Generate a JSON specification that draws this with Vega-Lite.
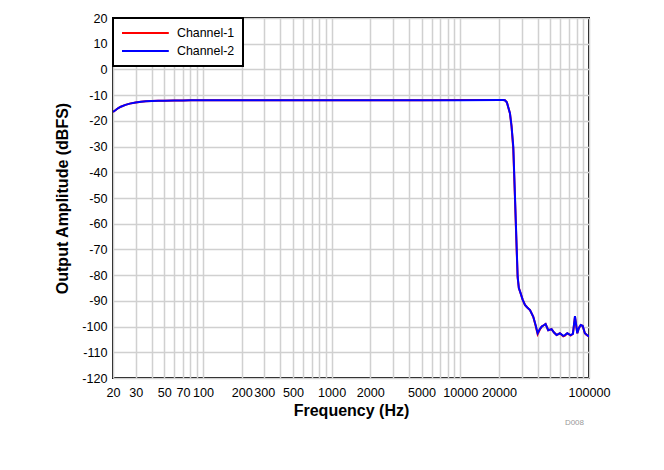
{
  "$schema": "https://vega.github.io/schema/vega-lite/v6.json",
  "width": 476,
  "height": 360,
  "autosize": "none",
  "padding": {"left": 113, "top": 18, "right": 75, "bottom": 92},
  "background": "white",
  "title": {"text": "D008", "orient": "bottom", "anchor": "end", "fontSize": 8, "color": "#999999", "font": "Liberation Sans", "fontWeight": "normal", "offset": 0, "dx": -26},
  "config": {
    "font": "Liberation Sans",
    "view": {"stroke": "black", "strokeWidth": 2},
    "axis": {"gridColor": "#d0d0d0", "gridWidth": 1.5, "domain": false, "ticks": false, "labelFont": "Liberation Sans", "labelFontSize": 12.6, "labelColor": "black", "titleFont": "Liberation Sans", "titleFontSize": 16, "titleFontWeight": "bold", "titleColor": "black"}
  },
  "datasets": {
    "curve": [
      {"f": 20, "a": -16.5, "ch": "Channel-1"}, {"f": 21, "a": -15.8, "ch": "Channel-1"}, {"f": 22, "a": -15.0, "ch": "Channel-1"}, {"f": 23, "a": -14.5, "ch": "Channel-1"}, {"f": 25, "a": -13.8, "ch": "Channel-1"}, {"f": 27, "a": -13.3, "ch": "Channel-1"}, {"f": 30, "a": -12.9, "ch": "Channel-1"}, {"f": 33, "a": -12.6, "ch": "Channel-1"}, {"f": 36, "a": -12.4, "ch": "Channel-1"}, {"f": 40, "a": -12.3, "ch": "Channel-1"}, {"f": 45, "a": -12.2, "ch": "Channel-1"}, {"f": 50, "a": -12.15, "ch": "Channel-1"}, {"f": 60, "a": -12.1, "ch": "Channel-1"}, {"f": 70, "a": -12.05, "ch": "Channel-1"}, {"f": 80, "a": -12.0, "ch": "Channel-1"}, {"f": 100, "a": -12.0, "ch": "Channel-1"}, {"f": 200, "a": -12.0, "ch": "Channel-1"}, {"f": 500, "a": -12.0, "ch": "Channel-1"}, {"f": 1000, "a": -11.95, "ch": "Channel-1"}, {"f": 2000, "a": -11.95, "ch": "Channel-1"}, {"f": 5000, "a": -11.95, "ch": "Channel-1"}, {"f": 10000, "a": -11.9, "ch": "Channel-1"}, {"f": 20000, "a": -11.9, "ch": "Channel-1"}, {"f": 21500, "a": -11.9, "ch": "Channel-1"}, {"f": 22200, "a": -12.0, "ch": "Channel-1"}, {"f": 23000, "a": -12.8, "ch": "Channel-1"}, {"f": 24300, "a": -17, "ch": "Channel-1"}, {"f": 25000, "a": -22, "ch": "Channel-1"}, {"f": 25800, "a": -31, "ch": "Channel-1"}, {"f": 26600, "a": -50.5, "ch": "Channel-1"}, {"f": 27400, "a": -70, "ch": "Channel-1"}, {"f": 27900, "a": -81, "ch": "Channel-1"}, {"f": 28500, "a": -85, "ch": "Channel-1"}, {"f": 29400, "a": -87, "ch": "Channel-1"}, {"f": 30500, "a": -89.5, "ch": "Channel-1"}, {"f": 31800, "a": -91.6, "ch": "Channel-1"}, {"f": 33000, "a": -92.5, "ch": "Channel-1"}, {"f": 34800, "a": -93.6, "ch": "Channel-1"}, {"f": 36900, "a": -96.2, "ch": "Channel-1"}, {"f": 38500, "a": -99.7, "ch": "Channel-1"}, {"f": 39900, "a": -103.0, "ch": "Channel-1"}, {"f": 41500, "a": -101.2, "ch": "Channel-1"}, {"f": 42900, "a": -100, "ch": "Channel-1"}, {"f": 44500, "a": -99.5, "ch": "Channel-1"}, {"f": 46000, "a": -99, "ch": "Channel-1"}, {"f": 48200, "a": -101.4, "ch": "Channel-1"}, {"f": 51200, "a": -101, "ch": "Channel-1"}, {"f": 53500, "a": -102.3, "ch": "Channel-1"}, {"f": 56000, "a": -103.3, "ch": "Channel-1"}, {"f": 59400, "a": -102.6, "ch": "Channel-1"}, {"f": 63100, "a": -103.8, "ch": "Channel-1"}, {"f": 65000, "a": -103.5, "ch": "Channel-1"}, {"f": 67800, "a": -102.6, "ch": "Channel-1"}, {"f": 72000, "a": -103.5, "ch": "Channel-1"}, {"f": 75000, "a": -102.8, "ch": "Channel-1"}, {"f": 77800, "a": -96.2, "ch": "Channel-1"}, {"f": 81100, "a": -102.6, "ch": "Channel-1"}, {"f": 83500, "a": -100.5, "ch": "Channel-1"}, {"f": 86200, "a": -99.4, "ch": "Channel-1"}, {"f": 89300, "a": -99.8, "ch": "Channel-1"}, {"f": 92900, "a": -102.6, "ch": "Channel-1"}, {"f": 96000, "a": -103.3, "ch": "Channel-1"}, {"f": 98600, "a": -103.6, "ch": "Channel-1"}, {"f": 100000, "a": -104, "ch": "Channel-1"},
      {"f": 20, "a": -16.5, "ch": "Channel-2"}, {"f": 21, "a": -15.8, "ch": "Channel-2"}, {"f": 22, "a": -15.0, "ch": "Channel-2"}, {"f": 23, "a": -14.5, "ch": "Channel-2"}, {"f": 25, "a": -13.8, "ch": "Channel-2"}, {"f": 27, "a": -13.3, "ch": "Channel-2"}, {"f": 30, "a": -12.9, "ch": "Channel-2"}, {"f": 33, "a": -12.6, "ch": "Channel-2"}, {"f": 36, "a": -12.4, "ch": "Channel-2"}, {"f": 40, "a": -12.3, "ch": "Channel-2"}, {"f": 45, "a": -12.2, "ch": "Channel-2"}, {"f": 50, "a": -12.15, "ch": "Channel-2"}, {"f": 60, "a": -12.1, "ch": "Channel-2"}, {"f": 70, "a": -12.05, "ch": "Channel-2"}, {"f": 80, "a": -12.0, "ch": "Channel-2"}, {"f": 100, "a": -12.0, "ch": "Channel-2"}, {"f": 200, "a": -12.0, "ch": "Channel-2"}, {"f": 500, "a": -12.0, "ch": "Channel-2"}, {"f": 1000, "a": -12.0, "ch": "Channel-2"}, {"f": 2000, "a": -12.0, "ch": "Channel-2"}, {"f": 5000, "a": -12.0, "ch": "Channel-2"}, {"f": 10000, "a": -12.0, "ch": "Channel-2"}, {"f": 20000, "a": -11.9, "ch": "Channel-2"}, {"f": 21500, "a": -11.9, "ch": "Channel-2"}, {"f": 22200, "a": -12.0, "ch": "Channel-2"}, {"f": 23000, "a": -12.8, "ch": "Channel-2"}, {"f": 24300, "a": -17, "ch": "Channel-2"}, {"f": 25000, "a": -22, "ch": "Channel-2"}, {"f": 25800, "a": -30, "ch": "Channel-2"}, {"f": 26600, "a": -49.5, "ch": "Channel-2"}, {"f": 27400, "a": -69, "ch": "Channel-2"}, {"f": 27900, "a": -80.6, "ch": "Channel-2"}, {"f": 28500, "a": -85, "ch": "Channel-2"}, {"f": 29400, "a": -87, "ch": "Channel-2"}, {"f": 30500, "a": -89.5, "ch": "Channel-2"}, {"f": 31800, "a": -91.6, "ch": "Channel-2"}, {"f": 33000, "a": -92.5, "ch": "Channel-2"}, {"f": 34800, "a": -93.6, "ch": "Channel-2"}, {"f": 36900, "a": -96.2, "ch": "Channel-2"}, {"f": 38500, "a": -99.5, "ch": "Channel-2"}, {"f": 39900, "a": -102.6, "ch": "Channel-2"}, {"f": 41500, "a": -101, "ch": "Channel-2"}, {"f": 42900, "a": -100, "ch": "Channel-2"}, {"f": 44500, "a": -99.5, "ch": "Channel-2"}, {"f": 46000, "a": -99, "ch": "Channel-2"}, {"f": 48200, "a": -101.4, "ch": "Channel-2"}, {"f": 51200, "a": -101, "ch": "Channel-2"}, {"f": 53500, "a": -102.3, "ch": "Channel-2"}, {"f": 56000, "a": -103.3, "ch": "Channel-2"}, {"f": 59400, "a": -102.6, "ch": "Channel-2"}, {"f": 63100, "a": -103.6, "ch": "Channel-2"}, {"f": 65000, "a": -103.3, "ch": "Channel-2"}, {"f": 67800, "a": -102.6, "ch": "Channel-2"}, {"f": 72000, "a": -103.3, "ch": "Channel-2"}, {"f": 75000, "a": -102.8, "ch": "Channel-2"}, {"f": 77800, "a": -95.9, "ch": "Channel-2"}, {"f": 81100, "a": -102.6, "ch": "Channel-2"}, {"f": 83500, "a": -100.5, "ch": "Channel-2"}, {"f": 86200, "a": -99.4, "ch": "Channel-2"}, {"f": 89300, "a": -99.7, "ch": "Channel-2"}, {"f": 92900, "a": -102.6, "ch": "Channel-2"}, {"f": 96000, "a": -103.2, "ch": "Channel-2"}, {"f": 98600, "a": -103.6, "ch": "Channel-2"}, {"f": 100000, "a": -104, "ch": "Channel-2"}
    ]
  },
  "data": {"name": "curve"},
  "mark": {"type": "line", "strokeWidth": 2, "clip": true},
  "encoding": {
    "x": {
      "field": "f", "type": "quantitative",
      "scale": {"type": "log", "domain": [20, 100000], "nice": false},
      "axis": {
        "title": "Frequency (Hz)",
        "values": [20,30,40,50,60,70,80,90,100,200,300,400,500,600,700,800,900,1000,2000,3000,4000,5000,6000,7000,8000,9000,10000,20000,30000,40000,50000,60000,70000,80000,90000,100000],
        "labelExpr": "indexof([20,30,50,70,100,200,300,500,1000,2000,5000,10000,20000,100000], datum.value) >= 0 ? datum.value + '' : ''",
        "labelOverlap": false,
        "labelBound": false,
        "labelFlush": false,
        "labelPadding": 8,
        "titlePadding": 4
      }
    },
    "y": {
      "field": "a", "type": "quantitative",
      "scale": {"domain": [-120, 20], "nice": false, "zero": false},
      "axis": {
        "title": "Output Amplitude (dBFS)",
        "values": [-120,-110,-100,-90,-80,-70,-60,-50,-40,-30,-20,-10,0,10,20],
        "labelExpr": "datum.value + ''",
        "labelPadding": 6,
        "titlePadding": 11,
        "labelFlush": false,
        "labelOverlap": false
      }
    },
    "color": {
      "field": "ch", "type": "nominal",
      "scale": {"domain": ["Channel-1", "Channel-2"], "range": ["#ff0000", "#0000ff"]},
      "legend": {
        "title": null,
        "orient": "top-left",
        "offset": 0,
        "padding": 8,
        "strokeColor": "black",
        "fillColor": "white",
        "symbolType": "M-1,0H6.8",
        "symbolStrokeWidth": 2,
        "symbolSize": 144,
        "labelFontSize": 12.4,
        "labelFont": "Liberation Sans",
        "labelColor": "black",
        "rowPadding": 4,
        "labelOffset": 42,
        "cornerRadius": 0,
        "encode": {"legend": {"update": {"strokeWidth": {"value": 2}}}}
      }
    }
  }
}
